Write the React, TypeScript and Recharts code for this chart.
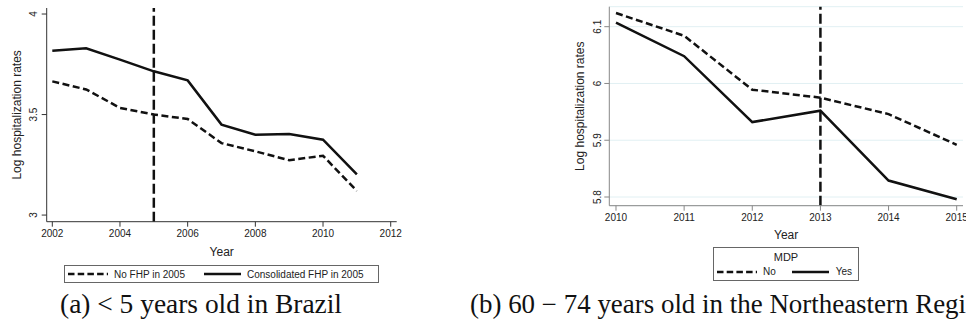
import { CartesianGrid, Legend, Line, LineChart, ReferenceLine, XAxis, YAxis } from "recharts";

// panel (a): < 5 years old in Brazil
const brazilYears = [2002, 2003, 2004, 2005, 2006, 2007, 2008, 2009, 2010, 2011];
const noFhp = [3.665, 3.625, 3.533, 3.5, 3.478, 3.358, 3.317, 3.273, 3.295, 3.12];
const consolidatedFhp = [3.817, 3.83, 3.773, 3.715, 3.67, 3.45, 3.4, 3.403, 3.375, 3.203];
const brazilYearTicks = [2002, 2004, 2006, 2008, 2010, 2012];
const brazilRateTicks = [3, 3.5, 4];

// panel (b): 60 - 74 years old in the Northeastern Region
const neYears = [2010, 2011, 2012, 2013, 2014, 2015];
const mdpNo = [6.124, 6.084, 5.989, 5.975, 5.946, 5.892];
const mdpYes = [6.107, 6.048, 5.932, 5.952, 5.829, 5.796];
const neYearTicks = [2010, 2011, 2012, 2013, 2014, 2015];
const neRateTicks = [5.8, 5.9, 6, 6.1];

const brazilData = brazilYears.map((year, i) => ({ year, noFhp: noFhp[i], consolidated: consolidatedFhp[i] }));
const neData = neYears.map((year, i) => ({ year, no: mdpNo[i], yes: mdpYes[i] }));

const SANS = '"Liberation Sans", Arial, sans-serif';
const SERIF = '"Liberation Serif", "DejaVu Serif", serif';
const INK = "#111";

function RotatedTick({ x, y, payload }: any) {
  return (
    <text
      x={x}
      y={y}
      transform={`rotate(-90 ${x} ${y})`}
      textAnchor="middle"
      dominantBaseline="central"
      fontSize={10}
      fontFamily={SANS}
      fill="#222"
    >
      {payload.value}
    </text>
  );
}

const xTitle = (dy: number) => (props: any) => {
  const vb = props.viewBox;
  return (
    <text x={vb.x + vb.width / 2} y={vb.y + dy} textAnchor="middle" dominantBaseline="central" fontSize={12} fontFamily={SANS} fill="#222">
      Year
    </text>
  );
};

const yTitle = (dx: number) => (props: any) => {
  const vb = props.viewBox;
  const x = vb.x + dx;
  const y = vb.y + vb.height / 2;
  return (
    <text x={x} y={y} transform={`rotate(-90 ${x} ${y})`} textAnchor="middle" dominantBaseline="central" fontSize={12} fontFamily={SANS} fill="#222">
      Log hospitalization rates
    </text>
  );
};

function Sample({ dashed, w }: { dashed: boolean; w: number }) {
  return (
    <svg width={w} height={6} style={{ display: "block" }}>
      <line x1={0} y1={3} x2={w} y2={3} stroke={INK} strokeWidth={2.5} strokeDasharray={dashed ? "6.5 3.2" : undefined} />
    </svg>
  );
}

function BrazilLegend() {
  return (
    <div style={{ boxSizing: "border-box", width: 315, height: 18, border: "1px solid #666", display: "flex", alignItems: "center", fontFamily: SANS, fontSize: 10, color: "#222" }}>
      <div style={{ marginLeft: 3 }}><Sample dashed w={40} /></div>
      <span style={{ marginLeft: 6 }}>No FHP in 2005</span>
      <div style={{ marginLeft: 19 }}><Sample dashed={false} w={37} /></div>
      <span style={{ marginLeft: 6 }}>Consolidated FHP in 2005</span>
    </div>
  );
}

function NeLegend() {
  return (
    <div style={{ boxSizing: "border-box", width: 146, height: 34, border: "1px solid #666", fontFamily: SANS, fontSize: 10, color: "#222" }}>
      <div style={{ textAlign: "center", marginTop: 3, height: 13, lineHeight: "13px", fontSize: 11 }}>MDP</div>
      <div style={{ display: "flex", alignItems: "center", marginTop: 2 }}>
        <div style={{ marginLeft: 3 }}><Sample dashed w={40} /></div>
        <span style={{ marginLeft: 6 }}>No</span>
        <div style={{ marginLeft: 16 }}><Sample dashed={false} w={37} /></div>
        <span style={{ marginLeft: 7 }}>Yes</span>
      </div>
    </div>
  );
}

export default function App() {
  return (
    <div style={{ position: "relative", width: 966, height: 322, overflow: "hidden", background: "#fff" }}>
      <style>{"body{margin:0;overflow:hidden}"}</style>

      <div style={{ position: "absolute", left: 0, top: 0 }}>
        <LineChart width={420} height={322} data={brazilData} margin={{ top: 8, right: 23.3, bottom: 70.3, left: 0 }}>
          <XAxis
            dataKey="year"
            type="number"
            domain={[2001.8345, 2012.177]}
            allowDataOverflow
            ticks={brazilYearTicks}
            height={30}
            tickSize={5}
            tickMargin={3}
            stroke="#333"
            tick={{ fontSize: 10, fontFamily: SANS, fill: "#222" }}
            label={xTitle(30)}
          />
          <YAxis
            type="number"
            domain={[2.967, 4.03]}
            allowDataOverflow
            ticks={brazilRateTicks}
            width={46.7}
            tickSize={5}
            tickMargin={8.4}
            stroke="#333"
            tick={(p: any) => <RotatedTick {...p} />}
            label={yTitle(17.3)}
          />
          <ReferenceLine x={2005} stroke={INK} strokeWidth={2.5} strokeDasharray="10 4" />
          <Line dataKey="noFhp" stroke={INK} strokeWidth={2.5} strokeDasharray="7 3.5" dot={false} isAnimationActive={false} />
          <Line dataKey="consolidated" stroke={INK} strokeWidth={2.5} dot={false} isAnimationActive={false} />
          <Legend
            verticalAlign="middle"
            align="center"
            content={() => <BrazilLegend />}
            wrapperStyle={{ left: 64, top: 265, width: 315, height: 18 }}
          />
        </LineChart>
      </div>

      <div style={{ position: "absolute", left: 520, top: 0 }}>
        <LineChart width={460} height={322} data={neData} margin={{ top: 6.7, right: 17, bottom: 86.3, left: 0 }}>
          <CartesianGrid horizontal vertical={false} stroke="#e1f0f3" strokeWidth={1} />
          <XAxis
            dataKey="year"
            type="number"
            domain={[2009.9017, 2015.0925]}
            allowDataOverflow
            ticks={neYearTicks}
            height={30}
            tickSize={5}
            tickMargin={3}
            stroke="#888"
            tick={{ fontSize: 10, fontFamily: SANS, fill: "#222" }}
            label={xTitle(29.3)}
          />
          <YAxis
            type="number"
            domain={[5.7847, 6.1352]}
            allowDataOverflow
            ticks={neRateTicks}
            width={89.3}
            tickSize={5}
            tickMargin={7}
            stroke="#888"
            tick={(p: any) => <RotatedTick {...p} />}
            label={yTitle(60)}
          />
          <ReferenceLine x={2013} stroke={INK} strokeWidth={2.5} strokeDasharray="10 4" />
          <Line dataKey="no" stroke={INK} strokeWidth={2.5} strokeDasharray="7 3.5" dot={false} isAnimationActive={false} />
          <Line dataKey="yes" stroke={INK} strokeWidth={2.5} dot={false} isAnimationActive={false} />
          <Legend
            verticalAlign="middle"
            align="center"
            content={() => <NeLegend />}
            wrapperStyle={{ left: 193, top: 247, width: 146, height: 34 }}
          />
        </LineChart>
      </div>

      <svg width={966} height={322} style={{ position: "absolute", left: 0, top: 0, pointerEvents: "none" }}>
        <text x={60} y={313} fontSize={26.5} fontFamily={SERIF} fill="#111" textLength={282} lengthAdjust="spacingAndGlyphs">
          (a) &lt; 5 years old in Brazil
        </text>
        <text x={470} y={313} fontSize={26.5} fontFamily={SERIF} fill="#111" textLength={523} lengthAdjust="spacingAndGlyphs">
          (b) 60 − 74 years old in the Northeastern Region
        </text>
      </svg>
    </div>
  );
}
